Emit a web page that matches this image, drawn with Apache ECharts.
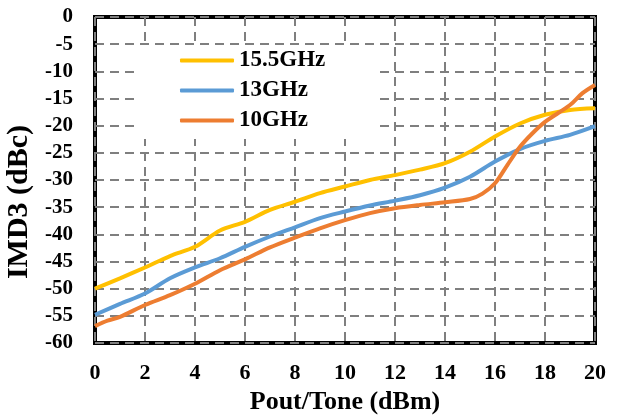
<!DOCTYPE html>
<html>
<head>
<meta charset="utf-8">
<script src="https://cdn.jsdelivr.net/npm/echarts@6/dist/echarts.min.js"></script>
<style>html,body{margin:0;padding:0;background:#fff}#c{width:617px;height:419px}</style>
</head>
<body>
<div id="c"></div>
<script>
var xTicks = [0, 2, 4, 6, 8, 10, 12, 14, 16, 18, 20];
var yTicks = [-60, -55, -50, -45, -40, -35, -30, -25, -20, -15, -10, -5, 0];

var x155 = [0, 1, 2, 3, 4, 5, 6, 7, 8, 9, 10, 11, 12, 13, 14, 15, 16, 17, 18, 19, 20];
var y155 = [-50, -48.1, -46.1, -44.0, -42.3, -39.3, -37.7, -35.5, -34.0, -32.4, -31.2, -30.0, -29.1, -28.1, -26.9, -24.8, -22.0, -19.6, -18.0, -17.1, -16.8];

var x13 = [0, 1, 2, 3, 4, 5, 6, 7, 8, 9, 10, 11, 12, 13, 14, 15, 16, 17, 18, 19, 20];
var y13 = [-54.8, -52.8, -50.9, -48.1, -46.1, -44.4, -42.3, -40.4, -38.7, -37.0, -35.8, -34.7, -33.8, -32.8, -31.4, -29.4, -26.6, -24.3, -22.8, -21.7, -20.1];

var x10 = [0, 0.5, 1, 2, 3, 4, 5, 6, 7, 8, 9, 10, 11, 12, 13, 14, 15, 15.5, 16, 16.5, 17, 17.5, 18, 19, 19.5, 20];
var y10 = [-56.9, -55.9, -55.2, -53.0, -51.2, -49.1, -46.6, -44.6, -42.4, -40.6, -38.9, -37.4, -36.1, -35.2, -34.6, -34.1, -33.5, -32.5, -30.6, -27.2, -23.9, -21.4, -19.3, -16.2, -14.0, -12.5];

function pairs(xs, ys) { return xs.map(function (x, i) { return [x, ys[i]]; }); }

var font = 'Liberation Serif';
var chart = echarts.init(document.getElementById('c'), null, { renderer: 'canvas' });
chart.setOption({
  animation: false,
  backgroundColor: '#fff',
  grid: { left: 95, right: 22, top: 17, bottom: 76, outerBoundsMode: 'none', containLabel: false, show: true, borderColor: '#000', borderWidth: 4, backgroundColor: 'transparent' },
  legend: {
    orient: 'vertical',
    left: 135, top: 45,
    padding: [4, 50, 7, 45],
    backgroundColor: '#fff',
    itemWidth: 54, itemHeight: 4, itemGap: 7,
    icon: 'roundRect',
    textStyle: { fontFamily: font, fontWeight: 'bold', fontSize: 23, color: '#000' },
    data: ['15.5GHz', '13GHz', '10GHz']
  },
  xAxis: {
    type: 'value', min: 0, max: 20, interval: 2,
    name: 'Pout/Tone (dBm)', nameLocation: 'middle', nameGap: 44,
    nameTextStyle: { fontFamily: font, fontWeight: 'bold', fontSize: 26, color: '#000' },
    axisLine: { show: false },
    axisTick: { show: false },
    axisLabel: { margin: 19, fontFamily: font, fontWeight: 'bold', fontSize: 22, color: '#000',
      formatter: function (v) { return xTicks.indexOf(v) >= 0 ? String(v) : ''; } },
    splitLine: { show: true, lineStyle: { color: '#7f7f7f', width: 2, type: [9, 6] } }
  },
  yAxis: {
    type: 'value', min: -60, max: 0, interval: 5,
    name: 'IMD3 (dBc)', nameLocation: 'middle', nameGap: 56, nameRotate: 90,
    nameTextStyle: { fontFamily: font, fontWeight: 'bold', fontSize: 30, color: '#000', padding: [0, 44, 0, 0] },
    axisLine: { show: false },
    axisTick: { show: false },
    axisLabel: { margin: 22, fontFamily: font, fontWeight: 'bold', fontSize: 21, color: '#000',
      formatter: function (v) { return yTicks.indexOf(v) >= 0 ? String(v) : ''; } },
    splitLine: { show: true, lineStyle: { color: '#7f7f7f', width: 2, type: [9, 6] } }
  },
  series: [
    { name: '15.5GHz', type: 'line', smooth: 0.3, showSymbol: false, color: '#FFC000', lineStyle: { width: 4, color: '#FFC000' }, data: pairs(x155, y155), z: 3 },
    { name: '13GHz', type: 'line', smooth: 0.3, showSymbol: false, color: '#5B9BD5', lineStyle: { width: 4, color: '#5B9BD5' }, data: pairs(x13, y13), z: 3 },
    { name: '10GHz', type: 'line', smooth: 0.3, showSymbol: false, color: '#ED7D31', lineStyle: { width: 4, color: '#ED7D31' }, data: pairs(x10, y10), z: 4 }
  ]
});
</script>
</body>
</html>
